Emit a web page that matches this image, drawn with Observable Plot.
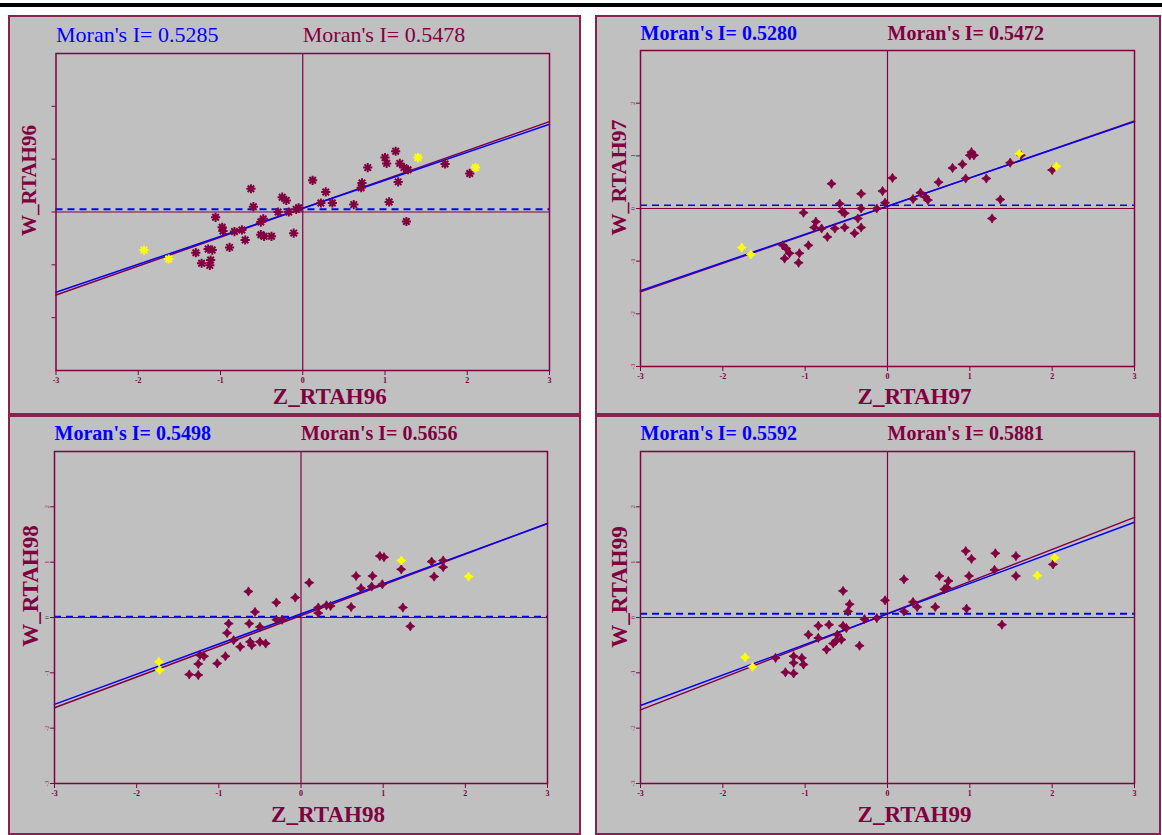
<!DOCTYPE html>
<html><head><meta charset="utf-8">
<script src="https://cdn.jsdelivr.net/npm/d3@7"></script>
<script src="https://cdn.jsdelivr.net/npm/@observablehq/plot@0.6"></script>
<style>
body{margin:0;background:#fff;width:1162px;height:835px;position:relative;overflow:hidden;font-family:"Liberation Serif",serif;}
#bar{position:absolute;left:0;top:3px;width:1162px;height:4px;background:#000;}
.panel{position:absolute;background:#c0c0c0;}
.panel svg{position:absolute;left:0;top:0;}
.border{position:absolute;left:0;top:0;right:0;bottom:0;border:2px solid #8a2050;pointer-events:none;}
</style></head><body>
<div id="bar"></div>
<script>
// ---------- data ----------
const xTicks = [-3, -2, -1, 0, 1, 2, 3];
const yTicks = [-3, -2, -1, 0, 1, 2];
const lineX = [-3, 3];

// 1996
const z96 = [1.13,1.00,1.02,1.18,1.23,1.28,0.79,1.73,2.03,0.72,0.71,1.16,0.12,0.28,0.22,0.36,0.62,1.05,1.26,-0.63,-0.25,-0.20,-0.60,-0.30,-0.17,-0.05,-0.08,-1.06,-0.48,-0.51,-0.98,-0.97,-0.83,-0.74,-0.70,-0.51,-0.47,-0.38,-0.11,-1.30,-1.15,-1.10,-0.89,-1.23,-1.12,-1.13];
const w96 = [1.15,1.03,0.92,0.92,0.84,0.80,0.84,0.91,0.73,0.55,0.46,0.57,0.60,0.38,0.17,0.17,0.14,0.19,-0.18,0.44,0.28,0.22,0.10,0.00,0.00,0.08,0.05,-0.10,-0.13,-0.19,-0.29,-0.36,-0.37,-0.34,-0.53,-0.43,-0.46,-0.46,-0.40,-0.77,-0.70,-0.72,-0.67,-0.97,-0.91,-1.01];
const z96y = [-1.93,-1.63,1.40,2.10];
const w96y = [-0.72,-0.89,1.03,0.84];
const blue96 = [-1.52, 1.66], maroon96 = [-1.57, 1.71], mean96 = 0.05;
const moranA96 = "Moran's I= 0.5285", moranB96 = "Moran's I= 0.5478";

// 1997
const z97 = [1.02,1.00,1.05,0.91,0.79,0.95,1.20,1.49,1.62,2.00,0.62,0.06,0.40,0.46,0.31,0.49,1.37,1.27,-0.68,-0.32,-0.06,-0.58,-0.03,-0.13,-1.02,-0.55,-0.52,-0.36,-0.32,-0.87,-0.89,-0.80,-0.64,-0.52,-0.32,-0.40,-0.73,-0.96,-1.27,-1.23,-1.19,-1.07,-1.25,-1.08];
const w97 = [1.07,1.01,1.01,0.84,0.77,0.57,0.57,0.87,1.01,0.73,0.50,0.58,0.30,0.22,0.18,0.16,0.17,-0.19,0.47,0.28,0.33,0.09,0.11,0.00,-0.08,-0.06,-0.09,-0.19,0.00,-0.25,-0.36,-0.38,-0.38,-0.36,-0.36,-0.47,-0.54,-0.70,-0.70,-0.76,-0.85,-0.85,-0.95,-1.03];
const z97y = [-1.77,-1.66,1.60,2.05];
const w97y = [-0.74,-0.87,1.04,0.80];
const blue97 = [-1.56, 1.65], maroon97 = [-1.58, 1.66], mean97 = 0.06;
const moranA97 = "Moran's I= 0.5280", moranB97 = "Moran's I= 0.5472";

// 1998
const z98 = [0.96,1.01,1.22,1.59,1.73,1.73,1.62,0.67,0.87,0.73,0.86,0.99,0.10,0.21,0.31,0.36,0.21,0.61,1.24,1.33,-0.64,-0.30,-0.07,-0.56,-0.30,-0.23,-0.88,-0.63,-0.50,-0.90,-0.82,-0.74,-0.62,-0.60,-0.50,-0.43,-0.92,-1.02,-1.23,-1.18,-1.25,-1.36,-1.25];
const w98 = [1.11,1.09,0.87,1.01,1.03,0.91,0.74,0.75,0.75,0.53,0.56,0.60,0.63,0.18,0.22,0.21,0.08,0.19,0.18,-0.16,0.47,0.27,0.36,0.10,-0.04,-0.04,-0.11,-0.11,-0.17,-0.28,-0.41,-0.53,-0.44,-0.50,-0.44,-0.47,-0.70,-0.83,-0.68,-0.70,-0.84,-1.03,-1.04];
const z98y = [-1.73,-1.72,1.22,2.04];
const w98y = [-0.80,-0.95,1.03,0.74];
const blue98 = [-1.57, 1.70], maroon98 = [-1.63, 1.70], mean98 = 0.02;
const moranA98 = "Moran's I= 0.5498", moranB98 = "Moran's I= 0.5656";

// 1999
const z99 = [0.95,1.02,1.31,1.56,2.01,1.56,1.30,0.99,0.63,0.74,0.72,0.69,0.20,0.31,0.36,0.58,0.96,0.20,1.39,-0.03,-0.54,-0.46,-0.48,-0.28,-0.13,-0.84,-0.71,-0.54,-0.50,-0.96,-0.84,-0.61,-0.56,-0.66,-0.63,-0.74,-0.34,-1.36,-1.14,-1.04,-1.14,-1.02,-1.24,-1.14];
const w99 = [1.20,1.06,1.16,1.11,0.96,0.75,0.86,0.75,0.75,0.66,0.54,0.51,0.69,0.28,0.19,0.19,0.16,0.11,-0.13,0.31,0.48,0.24,0.11,-0.03,-0.01,-0.15,-0.13,-0.15,-0.19,-0.31,-0.37,-0.31,-0.40,-0.47,-0.43,-0.58,-0.51,-0.73,-0.70,-0.73,-0.82,-0.85,-0.99,-1.01];
const z99y = [-1.73,-1.64,1.82,2.03];
const w99y = [-0.72,-0.89,0.76,1.08];
const blue99 = [-1.59, 1.72], maroon99 = [-1.67, 1.81], mean99 = 0.07;
const moranA99 = "Moran's I= 0.5592", moranB99 = "Moran's I= 0.5881";

// ---------- styling ----------
const MAROON = "#800040", BLUE = "#0000ff", YELLOW = "#ffff00";
const FONT = "Liberation Serif";

const asterisk8 = {draw(ctx, size) {
  const r = Math.sqrt(size / Math.PI), d = r * Math.SQRT1_2;
  ctx.moveTo(-r, 0); ctx.lineTo(r, 0);
  ctx.moveTo(0, -r); ctx.lineTo(0, r);
  ctx.moveTo(-d, -d); ctx.lineTo(d, d);
  ctx.moveTo(-d, d); ctx.lineTo(d, -d);
}};
const star4 = {draw(ctx, size) {
  const r = Math.sqrt(size / Math.PI), i = r * 0.38;
  ctx.moveTo(0, -r); ctx.lineTo(i, -i); ctx.lineTo(r, 0); ctx.lineTo(i, i);
  ctx.lineTo(0, r); ctx.lineTo(-i, i); ctx.lineTo(-r, 0); ctx.lineTo(-i, -i); ctx.closePath();
}};

function pts(z, w) { return z.map((x, i) => ({x, y: w[i]})); }
function ends(v) { return lineX.map((x, i) => ({x, y: v[i]})); }

const panels = [
  {box: [8, 15, 573, 400], m: [38, 32, 45, 47.5], z: z96, w: w96, zy: z96y, wy: w96y,
   blue: blue96, maroon: maroon96, mean: mean96, tA: moranA96, tB: moranB96,
   xl: "Z_RTAH96", yl: "W_RTAH96", sym: "ast", bold: false, tSize: 22, tDy: -12,
   xlDy: 33, ylDx: -20.5, ylDy: -31.5, ylSize: 21, yLabels: false, dashW: 2},
  {box: [595, 15, 566, 400], m: [35, 27, 49, 45], z: z97, w: w97, zy: z97y, wy: w97y,
   blue: blue97, maroon: maroon97, mean: mean97, tA: moranA97, tB: moranB97,
   xl: "Z_RTAH97", yl: "W_RTAH97", sym: "star", bold: true, tSize: 20, tDy: -11,
   xlDy: 37, ylDx: -15, ylDy: -31, ylSize: 22, yLabels: true, dashW: 1.5},
  {box: [8, 415, 573, 420], m: [36, 34, 52, 46], z: z98, w: w98, zy: z98y, wy: w98y,
   blue: blue98, maroon: maroon98, mean: mean98, tA: moranA98, tB: moranB98,
   xl: "Z_RTAH98", yl: "W_RTAH98", sym: "star", bold: true, tSize: 20, tDy: -12,
   xlDy: 38, ylDx: -17, ylDy: -31.5, ylSize: 23, yLabels: true, dashW: 1.5},
  {box: [595, 415, 566, 420], m: [36, 27, 52, 45], z: z99, w: w99, zy: z99y, wy: w99y,
   blue: blue99, maroon: maroon99, mean: mean99, tA: moranA99, tB: moranB99,
   xl: "Z_RTAH99", yl: "W_RTAH99", sym: "star", bold: true, tSize: 20, tDy: -12,
   xlDy: 38, ylDx: -14, ylDy: -30.5, ylSize: 23, yLabels: true, dashW: 2}
];

for (const p of panels) {
  const [left, top, width, height] = p.box;
  const div = document.createElement("div");
  div.className = "panel";
  Object.assign(div.style, {left: left + "px", top: top + "px", width: width + "px", height: height + "px"});
  document.body.appendChild(div);

  const dotOpts = p.sym === "ast"
    ? {symbol: asterisk8, r: 4.6, stroke: MAROON, strokeWidth: 2, fill: "none"}
    : {symbol: star4, r: 4.6, fill: MAROON, stroke: MAROON, strokeWidth: 0.8};
  const yelOpts = p.sym === "ast"
    ? {symbol: asterisk8, r: 4.6, stroke: YELLOW, strokeWidth: 2, fill: "none"}
    : {symbol: star4, r: 4.6, fill: YELLOW, stroke: YELLOW, strokeWidth: 0.8};

  const chart = Plot.plot({
    width, height,
    marginTop: p.m[0], marginRight: p.m[1], marginBottom: p.m[2], marginLeft: p.m[3],
    x: {domain: [-3, 3]},
    y: {domain: [-3, 3]},
    style: {background: "transparent", color: MAROON, fontFamily: FONT, overflow: "visible"},
    marks: [
      Plot.ruleX([0], {stroke: MAROON, strokeWidth: 1.2}),
      Plot.ruleY([0], {stroke: MAROON, strokeWidth: 1.2}),
      Plot.ruleY([p.mean], {stroke: BLUE, strokeWidth: p.dashW, strokeDasharray: "7,5"}),
      Plot.line(ends(p.maroon), {x: "x", y: "y", stroke: MAROON, strokeWidth: 1.5}),
      Plot.line(ends(p.blue), {x: "x", y: "y", stroke: BLUE, strokeWidth: 1.5}),
      Plot.dot(pts(p.z, p.w), {x: "x", y: "y", ...dotOpts}),
      Plot.dot(pts(p.zy, p.wy), {x: "x", y: "y", ...yelOpts}),
      Plot.frame({stroke: MAROON, strokeWidth: 1.5}),
      Plot.axisX({ticks: xTicks, tickSize: 5, tickPadding: 2, fontSize: 8, fontWeight: "bold",
                  tickFormat: d => String(d), label: null, stroke: MAROON, fill: MAROON}),
      p.yLabels
        ? Plot.axisY({ticks: yTicks, tickSize: 4, tickPadding: 2, fontSize: 7, tickRotate: -90,
                      tickFormat: d => String(d), label: null, stroke: MAROON, fill: MAROON, fillOpacity: 0.8})
        : Plot.axisY({ticks: [-2, -1, 0, 1, 2], tickSize: 4, tickFormat: () => "", label: null, stroke: MAROON}),
      Plot.text([p.tA], {frameAnchor: "top-left", textAnchor: "start", lineAnchor: "bottom", dy: p.tDy,
                         fill: BLUE, fontSize: p.tSize, fontWeight: p.bold ? "bold" : "normal", fontFamily: FONT}),
      Plot.text([p.tB], {frameAnchor: "top", textAnchor: "start", lineAnchor: "bottom", dy: p.tDy,
                         fill: MAROON, fontSize: p.tSize, fontWeight: p.bold ? "bold" : "normal", fontFamily: FONT}),
      Plot.text([p.xl], {frameAnchor: "bottom", textAnchor: "middle", lineAnchor: "bottom", dx: 27, dy: p.xlDy,
                         fill: MAROON, fontSize: 23, fontWeight: "bold", fontFamily: FONT}),
      Plot.text([p.yl], {frameAnchor: "left", textAnchor: "middle", lineAnchor: "bottom", rotate: -90, dx: p.ylDx, dy: p.ylDy,
                         fill: MAROON, fontSize: p.ylSize, fontWeight: "bold", fontFamily: FONT})
    ]
  });
  div.appendChild(chart);
  const b = document.createElement("div");
  b.className = "border";
  div.appendChild(b);
}
</script>
</body></html>
